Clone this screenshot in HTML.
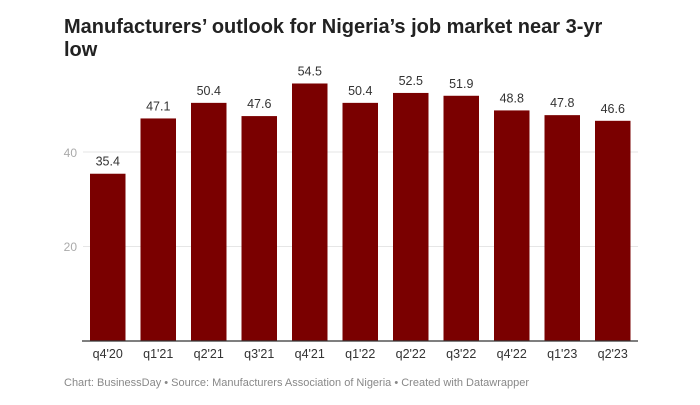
<!DOCTYPE html>
<html><head><meta charset="utf-8"><style>
body{margin:0;background:#fff;width:700px;height:400px;overflow:hidden;font-family:"Liberation Sans",sans-serif}
</style></head><body>
<svg width="700" height="400" xmlns="http://www.w3.org/2000/svg" font-family="Liberation Sans, sans-serif">
<text x="64" y="33" font-size="20" font-weight="bold" fill="#222">Manufacturers’ outlook for Nigeria’s job market near 3-yr</text>
<text x="64" y="56" font-size="20" font-weight="bold" fill="#222">low</text>
<line x1="83" y1="152" x2="638" y2="152" stroke="#e6e6e6"/>
<line x1="83" y1="246.5" x2="638" y2="246.5" stroke="#e6e6e6"/>
<text x="77" y="157" font-size="12" fill="#aaa" text-anchor="end">40</text>
<text x="77" y="251" font-size="12" fill="#aaa" text-anchor="end">20</text>
<g fill="#7a0000">
<rect x="90" y="173.73" width="35.5" height="167.27"/>
<rect x="140.5" y="118.45" width="35.5" height="222.55"/>
<rect x="191" y="102.86" width="35.5" height="238.14"/>
<rect x="241.5" y="116.09" width="35.5" height="224.91"/>
<rect x="292" y="83.49" width="35.5" height="257.51"/>
<rect x="342.5" y="102.86" width="35.5" height="238.14"/>
<rect x="393" y="92.94" width="35.5" height="248.06"/>
<rect x="443.5" y="95.77" width="35.5" height="245.23"/>
<rect x="494" y="110.42" width="35.5" height="230.58"/>
<rect x="544.5" y="115.14" width="35.5" height="225.86"/>
<rect x="595" y="120.81" width="35.5" height="220.19"/>
</g>
<g font-size="12.5" fill="#333" text-anchor="middle">
<text x="107.75" y="165.7">35.4</text>
<text x="158.25" y="110.4">47.1</text>
<text x="208.75" y="94.9">50.4</text>
<text x="259.25" y="108.1">47.6</text>
<text x="309.75" y="75.5">54.5</text>
<text x="360.25" y="94.9">50.4</text>
<text x="410.75" y="84.9">52.5</text>
<text x="461.25" y="87.8">51.9</text>
<text x="511.75" y="102.4">48.8</text>
<text x="562.25" y="107.1">47.8</text>
<text x="612.75" y="112.8">46.6</text>
<text x="107.75" y="358">q4'20</text>
<text x="158.25" y="358">q1'21</text>
<text x="208.75" y="358">q2'21</text>
<text x="259.25" y="358">q3'21</text>
<text x="309.75" y="358">q4'21</text>
<text x="360.25" y="358">q1'22</text>
<text x="410.75" y="358">q2'22</text>
<text x="461.25" y="358">q3'22</text>
<text x="511.75" y="358">q4'22</text>
<text x="562.25" y="358">q1'23</text>
<text x="612.75" y="358">q2'23</text>
</g>
<line x1="82" y1="341" x2="638" y2="341" stroke="#333" stroke-width="1.2"/>
<text x="64" y="386" font-size="11" fill="#888">Chart: BusinessDay • Source: Manufacturers Association of Nigeria  • Created with Datawrapper</text>
</svg>
</body></html>
